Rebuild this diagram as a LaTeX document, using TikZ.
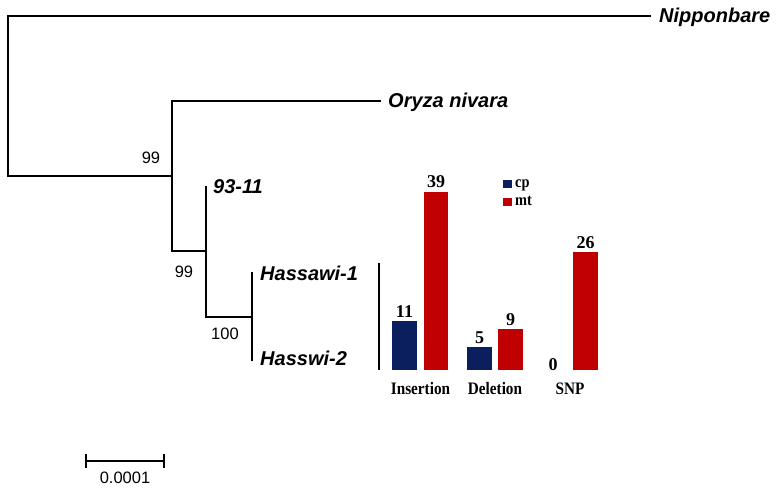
\documentclass[tikz,border=0pt]{standalone}
\usepackage{fontspec}
\setmainfont{Liberation Serif}
\setsansfont{Liberation Sans}
\definecolor{cpblue}{HTML}{0B1F5E}
\definecolor{mtred}{HTML}{C00000}
\newcommand{\narrowtxt}[1]{\scalebox{0.87}[1]{#1}}
\begin{document}
\begin{tikzpicture}[x=1pt,y=-1pt,
  branch/.style={line width=1.5pt, line cap=rect},
  taxon/.style={anchor=west, inner sep=0pt, font=\sffamily\bfseries\itshape\fontsize{20}{22}\selectfont},
  boot/.style={inner sep=0pt, font=\sffamily\fontsize{16.5}{18}\selectfont},
  barlbl/.style={anchor=base, inner sep=0pt, font=\rmfamily\bfseries\fontsize{18}{20}\selectfont},
  catlbl/.style={inner sep=0pt, font=\rmfamily\bfseries\fontsize{17.5}{19}\selectfont},
  leglbl/.style={anchor=base west, inner sep=0pt, font=\rmfamily\bfseries\fontsize{16.5}{18}\selectfont},
  cpbar/.style={fill=cpblue, draw=none},
  mtbar/.style={fill=mtred, draw=none}]
\useasboundingbox (0,0) rectangle (780,492);
% tree coordinates
\coordinate (r1) at (8,16);
\coordinate (r2) at (8,176);
\coordinate (n1t) at (172,101);
\coordinate (n1b) at (172,251);
\coordinate (n1m) at (172,176);
\coordinate (n2t) at (206,187);
\coordinate (n2b) at (206,317);
\coordinate (n2m) at (206,251);
\coordinate (n3t) at (252,273);
\coordinate (n3b) at (252,360);
\coordinate (n3m) at (252,317);
\coordinate (e1) at (650,16);
\coordinate (e2) at (380,101);
% taxa
\node[taxon] (nip) at (659,17) {Nipponbare};
\node[taxon] (niv) at (388,102) {Oryza nivara};
\node[taxon] (t93) at (213,187) {93-11};
\node[taxon] (h1) at (260,273) {Hassawi-1};
\node[taxon] (h2) at (260,358) {Hasswi-2};
% branches
\draw[branch] (e1) -- (r1) -- (r2) -- (n1m);
\draw[branch] (e2) -- (n1t) -- (n1b) -- (n2m);
\draw[branch] (n2t) -- (n2b) -- (n3m);
\draw[branch] (n3t) -- (n3b);
% bootstrap
\node[boot] (b1) at (151,158) {99};
\node[boot] (b2) at (184,272) {99};
\node[boot] (b3) at (225,334) {100};
% scale bar
\coordinate (s1) at (86,461);
\coordinate (s2) at (164,461);
\draw[branch] (s1) -- (s2);
\draw[branch] ([yshift=-6pt]s1) -- ([yshift=6pt]s1);
\draw[branch] ([yshift=-6pt]s2) -- ([yshift=6pt]s2);
\node[boot] (sl) at (125,478) {0.0001};
% chart
\coordinate (ax1) at (379,263);
\coordinate (ax2) at (379,370);
\draw[line width=1.8pt] (ax1) -- (ax2);
\fill[cpbar] (392,370) rectangle (417,321);
\fill[mtbar] (424,370) rectangle (448,192);
\fill[cpbar] (467,370) rectangle (492,347);
\fill[mtbar] (498,370) rectangle (523,329);
\fill[mtbar] (573,370) rectangle (598,252);
\node[barlbl] (v1) at (404.5,317) {11};
\node[barlbl] (v2) at (436,188) {39};
\node[barlbl] (v3) at (479.5,343) {5};
\node[barlbl] (v4) at (510.5,325) {9};
\node[barlbl] (v5) at (553,370) {0};
\node[barlbl] (v6) at (585.5,248) {26};
\node[catlbl] (c1) at (420.5,389) {\narrowtxt{Insertion}};
\node[catlbl] (c2) at (495,389) {\narrowtxt{Deletion}};
\node[catlbl] (c3) at (570,389) {\narrowtxt{SNP}};
% legend
\fill[cpbar] (503,180) rectangle (512,188);
\fill[mtbar] (503,198) rectangle (512,206);
\node[leglbl] (lcp) at (515,188) {\narrowtxt{cp}};
\node[leglbl] (lmt) at (515,206) {\narrowtxt{mt}};
\end{tikzpicture}
\end{document}
